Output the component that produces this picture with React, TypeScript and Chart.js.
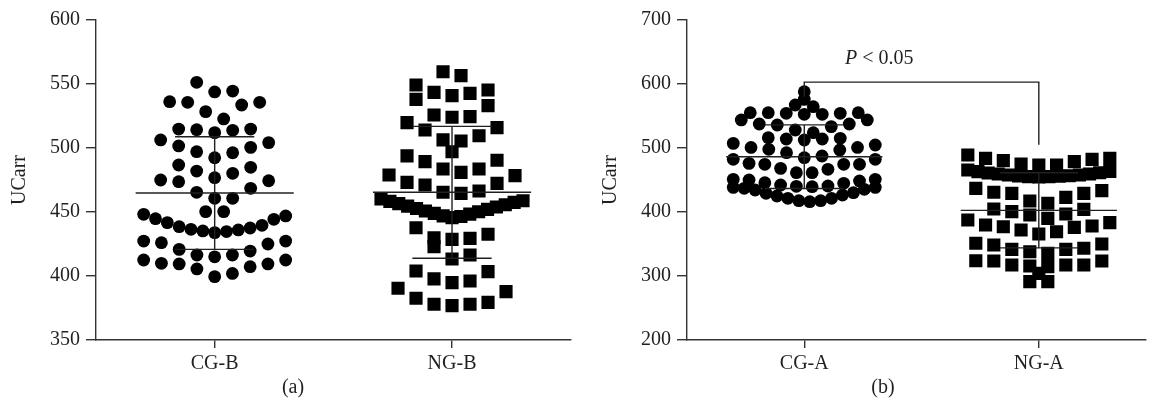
import React, { useEffect, useRef } from "react";
import { Chart, registerables } from "chart.js";

Chart.register(...registerables);

// ---------- data ----------
const categoriesA = ["CG-B", "NG-B"];
const categoriesB = ["CG-A", "NG-A"];

const cgB = [
  551.3, 543.8, 544.5, 535.7, 533.6, 535.7, 536.2, 528.4, 522.7, 514.8, 514.3, 513.8,
  514.8, 512.0, 506.3, 501.6, 497.1, 500.5, 504.2, 496.3, 492.4, 484.9, 486.7, 482.0,
  480.2, 475.0, 473.7, 474.4, 476.8, 465.4, 468.5, 460.7, 460.7, 450.3, 450.3,
  448.2, 444.8, 441.7, 438.5, 436.5, 435.2, 433.9, 434.7, 436.0, 437.5, 439.6, 444.3, 446.9,
  427.3, 427.3, 425.0, 419.5, 416.4, 420.8, 426.0, 412.5, 409.9, 409.4, 405.5, 399.5,
  402.0, 407.3, 409.4, 412.5, 415.0, 416.4,
];

const ngB = [
  559.6, 556.5, 549.2, 545.3, 542.7, 543.5, 540.9, 538.0, 533.1, 524.5, 519.8, 524.0,
  525.8, 515.9, 514.1, 509.6, 505.5, 506.3, 497.1, 493.8, 489.3, 490.4, 483.6, 478.9,
  481.0, 483.6, 473.2, 471.1, 478.4, 472.4, 465.4, 464.6, 466.4,
  460.2, 458.3, 456.5, 454.6, 452.7, 450.8, 448.9, 447.0, 445.6, 446.5, 448.3, 450.2,
  452.0, 453.9, 455.7, 457.5, 458.8,
  432.6, 429.4, 422.9, 428.6, 429.9, 437.7, 413.3, 416.4, 403.4, 396.1, 394.8, 397.7,
  403.9, 390.4, 382.6, 377.9, 376.8, 377.9, 379.4, 387.8,
];

const cgA = [
  588.0, 576.0, 564.6, 567.2, 554.2, 555.2, 552.6, 552.6, 554.2, 555.2, 555.2, 543.8,
  543.8, 537.5, 533.4, 535.9, 537.5, 528.1, 523.9, 514.1, 512.5, 515.1, 516.1, 514.1,
  504.7, 500.9, 507.2, 500.9, 496.9, 497.9, 492.7, 484.9, 482.3, 487.5, 482.3, 474.5,
  474.5, 474.5, 476.0, 468.2, 466.7,
  461.4, 451.1, 448.4, 445.8, 442.2, 438.5, 439.6, 440.1, 444.8, 450.0, 451.1, 461.4,
  440.6, 435.4, 430.2, 426.6, 421.4, 417.7, 416.1, 417.7, 421.4, 425.0, 429.2, 434.4,
  437.0, 438.5,
];

const ngA = [
  483.9, 482.3, 478.6, 473.4, 473.4, 475.0, 480.2, 483.9, 489.0,
  463.0, 460.9, 459.4, 457.8, 456.6, 455.8, 455.2, 454.7, 455.2, 456.3, 457.8, 459.4,
  461.3, 463.3, 465.6,
  433.4, 429.2, 422.9, 429.2, 430.8, 437.0,
  413.6, 404.2, 417.2, 396.9, 390.1, 395.3, 400.5, 404.7, 387.5,
  383.3, 377.0, 376.0, 369.2, 365.6, 371.9, 378.1, 379.7,
  351.1, 348.4, 341.7, 337.9, 341.7, 343.3, 350.0, 335.4,
  323.4, 323.4, 317.2, 315.6, 304.2, 314.6, 317.2, 317.2, 323.9,
  291.1, 291.1,
];

const meansA = [464.8, 465.4];
const sdsA = [44.0, 51.5];
const meansB = [486.4, 402.6];
const sdsB = [49.7, 58.7];

const yAxisA = [350, 600, 50]; // min, max, step
const yAxisB = [200, 700, 100];

// significance bracket (b): left leg end, bar level, right leg end
const bracketB = [580, 603, 505];
const pLabelAt = [0.32, 640];

// ---------- layout helpers ----------
const FONT = '"Liberation Serif", "Times New Roman", serif';
const FSIZE = 20;
const INK = "#231f20";
const AXIS = "#333333";

const ROW_MAXN = 17;
const MAX_STEP = 18; // px
const MAX_W = 142; // px

function swarm(chart: any, values: number[], center: number, span: number, gap: number) {
  const xs = chart.scales.x;
  const ys = chart.scales.y;
  const cx = xs.getPixelForValue(center);
  const pts = values
    .map((v) => ({ v, py: ys.getPixelForValue(v) }))
    .sort((a, b) => a.v - b.v);
  const rows: any[] = [];
  let row: any[] = [];
  for (const p of pts) {
    if (row.length) {
      const first = row[0];
      const last = row[row.length - 1];
      if (last.py - p.py > gap || first.py - p.py > span || row.length >= ROW_MAXN) {
        rows.push(row);
        row = [];
      }
    }
    row.push(p);
  }
  if (row.length) rows.push(row);
  const out: any[] = [];
  for (const r of rows) {
    const n = r.length;
    const step = n > 1 ? Math.min(MAX_STEP, MAX_W / (n - 1)) : 0;
    r.forEach((p: any, i: number) => {
      let slot: number;
      if (n % 2 === 1) {
        const k = Math.ceil(i / 2);
        slot = i === 0 ? 0 : i % 2 === 1 ? k : -k;
      } else {
        const k = Math.floor(i / 2) + 0.5;
        slot = i % 2 === 0 ? k : -k;
      }
      out.push({ x: xs.getValueForPixel(cx + slot * step), y: p.v });
    });
  }
  return out;
}

function segment(points: { x: number; y: number }[]) {
  return {
    type: "scatter" as const,
    data: points,
    showLine: true,
    borderColor: INK,
    borderWidth: 1.4,
    pointRadius: 0,
    order: 0,
    tension: 0,
  };
}

function meanSdSegments(means: number[], sds: number[]) {
  const out: any[] = [];
  means.forEach((m, i) => {
    const hi = m + sds[i];
    const lo = m - sds[i];
    out.push(segment([{ x: i - 0.333, y: m }, { x: i + 0.333, y: m }]));
    out.push(segment([{ x: i, y: lo }, { x: i, y: hi }]));
    out.push(segment([{ x: i - 0.167, y: hi }, { x: i + 0.167, y: hi }]));
    out.push(segment([{ x: i - 0.167, y: lo }, { x: i + 0.167, y: lo }]));
  });
  return out;
}

type PanelProps = {
  categories: string[];
  groups: number[][];
  means: number[];
  sds: number[];
  yAxis: number[];
  xMax: number;
  yWidth: number;
  titlePad: number;
  padRight: number;
  caption: string;
  captionX: number;
  width: number;
  left: number;
  rowSpan: number;
  rowGap: number;
  bracket?: number[];
};

function Panel(props: PanelProps) {
  const ref = useRef<HTMLCanvasElement | null>(null);
  useEffect(() => {
    const canvas = ref.current;
    if (!canvas) return;
    const { categories, groups, means, sds, yAxis, bracket } = props;

    const pointSets = groups.map((vals, gi) => ({
      type: "scatter" as const,
      data: vals.map((v) => ({ x: gi, y: v })),
      pointStyle: gi === 0 ? "circle" : "rect",
      pointRadius: gi === 0 ? 6.4 : 9.3,
      pointHoverRadius: gi === 0 ? 6.4 : 9.3,
      backgroundColor: "#000000",
      borderWidth: 0,
      order: 1,
    }));

    const extra: any[] = [];
    if (bracket) {
      extra.push(
        segment([
          { x: 0, y: bracket[0] },
          { x: 0, y: bracket[1] },
          { x: 1, y: bracket[1] },
          { x: 1, y: bracket[2] },
        ])
      );
    }

    const textPlugin = {
      id: "texts",
      afterDraw(chart: any) {
        const ctx = chart.ctx;
        ctx.save();
        ctx.fillStyle = INK;
        ctx.textBaseline = "middle";
        ctx.textAlign = "center";
        ctx.font = `${FSIZE}px ${FONT}`;
        ctx.fillText(props.caption, props.captionX, 388);
        if (bracket) {
          const px = chart.scales.x.getPixelForValue(pLabelAt[0]);
          const py = chart.scales.y.getPixelForValue(pLabelAt[1]);
          ctx.textAlign = "left";
          ctx.font = `italic ${FSIZE}px ${FONT}`;
          const w1 = ctx.measureText("P").width;
          ctx.font = `${FSIZE}px ${FONT}`;
          const rest = " < 0.05";
          const w2 = ctx.measureText(rest).width;
          const x0 = px - (w1 + w2) / 2;
          ctx.font = `italic ${FSIZE}px ${FONT}`;
          ctx.fillText("P", x0, py);
          ctx.font = `${FSIZE}px ${FONT}`;
          ctx.fillText(rest, x0 + w1, py);
        }
        ctx.restore();
      },
    };

    const chart = new Chart(canvas, {
      type: "scatter",
      data: {
        datasets: [...meanSdSegments(means, sds), ...extra, ...pointSets] as any,
      },
      options: {
        animation: false,
        responsive: false,
        devicePixelRatio: 1,
        layout: { padding: { top: 20, left: 0, right: props.padRight, bottom: 0 } },
        plugins: { legend: { display: false }, tooltip: { enabled: false } },
        events: [],
        scales: {
          x: {
            type: "linear",
            min: -0.5,
            max: props.xMax,
            afterBuildTicks: (s: any) => {
              s.ticks = categories.map((_, i) => ({ value: i }));
            },
            afterFit: (s: any) => {
              s.height = 68;
            },
            ticks: {
              callback: (v: any) => categories[Math.round(Number(v))] ?? "",
              font: { family: FONT, size: FSIZE },
              color: INK,
              padding: 4,
              maxRotation: 0,
              autoSkip: false,
            },
            grid: {
              drawOnChartArea: false,
              drawTicks: true,
              tickLength: 8,
              color: AXIS,
              lineWidth: 1.4,
            },
            border: { display: true, color: AXIS, width: 1.4 },
          },
          y: {
            type: "linear",
            min: yAxis[0],
            max: yAxis[1],
            afterFit: (s: any) => {
              s.width = props.yWidth;
            },
            ticks: {
              stepSize: yAxis[2],
              font: { family: FONT, size: FSIZE },
              color: INK,
              padding: 6,
            },
            grid: {
              drawOnChartArea: false,
              drawTicks: true,
              tickLength: 10,
              color: AXIS,
              lineWidth: 1.4,
            },
            border: { display: true, color: AXIS, width: 1.4 },
            title: {
              display: true,
              text: "UCarr",
              font: { family: FONT, size: FSIZE },
              color: INK,
              padding: { top: props.titlePad, bottom: 0 },
            },
          },
        },
      },
      plugins: [textPlugin],
    });

    const offset = chart.data.datasets.length - groups.length;
    groups.forEach((vals, gi) => {
      (chart.data.datasets[offset + gi] as any).data = swarm(
        chart,
        vals,
        gi,
        props.rowSpan,
        props.rowGap
      );
    });
    chart.update();

    return () => chart.destroy();
  }, []);

  return (
    <canvas
      ref={ref}
      width={props.width}
      height={408}
      style={{ position: "absolute", left: props.left, top: 0, width: props.width, height: 408 }}
    />
  );
}

export default function App() {
  return (
    <div
      style={{
        position: "absolute",
        left: 0,
        top: 0,
        width: 1155,
        height: 408,
        background: "#ffffff",
        overflow: "hidden",
      }}
    >
      <Panel
        categories={categoriesA}
        groups={[cgB, ngB]}
        means={meansA}
        sds={sdsA}
        yAxis={yAxisA}
        xMax={1.5}
        yWidth={96}
        titlePad={8}
        padRight={3}
        caption="(a)"
        captionX={293}
        width={580}
        left={0}
        rowSpan={19}
        rowGap={10}
      />
      <Panel
        categories={categoriesB}
        groups={[cgA, ngA]}
        means={meansB}
        sds={sdsB}
        yAxis={yAxisB}
        xMax={-0.5 + 468 / 239.3}
        yWidth={107}
        titlePad={19}
        padRight={0}
        caption="(b)"
        captionX={303}
        width={575}
        left={580}
        rowSpan={15}
        rowGap={4.8}
        bracket={bracketB}
      />
    </div>
  );
}
